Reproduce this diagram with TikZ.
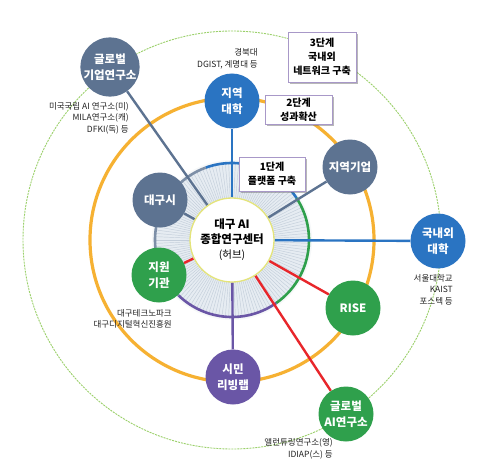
\documentclass[tikz,border=0pt]{standalone}
\usepackage{fontspec}
\setmainfont{Noto Sans CJK KR}
\usetikzlibrary{shadows,calc}
\definecolor{slate}{HTML}{5D7391}
\definecolor{cblue}{HTML}{2A74C2}
\definecolor{cgreen}{HTML}{2FA04C}
\definecolor{cpurple}{HTML}{6A56A6}
\definecolor{corange}{HTML}{F6B132}
\definecolor{cred}{HTML}{E8262B}
\definecolor{dgreen}{HTML}{9BD06A}
\definecolor{diskfill}{HTML}{E6ECF2}
\definecolor{spoke}{HTML}{C3CEDA}
\definecolor{hubline}{HTML}{E4E47A}
\definecolor{boxline}{HTML}{A898C8}
\definecolor{lbl}{HTML}{222222}
\pgfdeclarelayer{bg}
\pgfdeclarelayer{mid}
\pgfsetlayers{bg,mid,main}
\tikzset{
  orb/.style={circle, minimum size=55pt, inner sep=0pt, text=white, align=center,
    font=\fontsize{11.5}{16}\selectfont\bfseries},
  stagebox/.style={draw=boxline, line width=0.7pt, fill=white, align=center, inner sep=2pt,
    font=\fontsize{10}{14}\selectfont\bfseries,
    drop shadow={shadow xshift=2pt, shadow yshift=-2pt, opacity=0.5, fill=black!55}},
  note/.style={anchor=east, align=right, text=lbl, inner sep=0pt,
    font=\fontsize{8.5}{11.5}\selectfont},
  link/.style={line width=2.4pt},
}
\begin{document}
\begin{tikzpicture}[x=1pt,y=-1pt]
\useasboundingbox (0,0) rectangle (494,473);
\coordinate (C) at (232,240);
% hub
\node[circle, minimum size=84pt, inner sep=0pt, fill=white, draw=hubline, line width=1.3pt,
  align=center, font=\fontsize{11.5}{15}\selectfont\bfseries] (hub) at (C)
  {대구 AI\\종합연구센터\\{\mdseries\fontsize{10.5}{15}\selectfont (허브)}};
% outer nodes
\node[orb, fill=slate] (gk) at (110,67) {글로벌\\기업연구소};
\node[orb, fill=cblue] (ju) at (232,101) {지역\\대학};
\node[orb, fill=slate] (dg) at (160,200) {대구시};
\node[orb, fill=cgreen] (jw) at (159,275) {지원\\기관};
\node[orb, fill=cpurple] (sm) at (233,377) {시민\\리빙랩};
\node[orb, fill=slate] (jg) at (350,167) {지역기업};
\node[orb, fill=cblue] (gn) at (438,241) {국내외\\대학};
\node[orb, fill=cgreen] (rise) at (353,308) {RISE};
\node[orb, fill=cgreen] (gai) at (346,414) {글로벌\\AI연구소};
% stage boxes
\node[stagebox, minimum width=68pt, minimum height=50pt] (b3) at (322,57) {3단계\\국내외\\네트워크 구축};
\node[stagebox, minimum width=67pt, minimum height=29pt] (b2) at (298.5,109.5) {2단계\\성과확산};
\node[stagebox, minimum width=66pt, minimum height=34pt] (b1) at (272,174) {1단계\\플랫폼 구축};
% notes
\node[note] (n1) at (258,59) {경북대\\DGIST, 계명대 등};
\node[note] (n2) at (129,118) {미국국립 AI 연구소(미)\\MILA연구소(캐)\\DFKI(독) 등};
\node[note] (n3) at (172,319) {대구테크노파크\\대구디지털혁신진흥원};
\node[note] (n4) at (453,289.5) {서울대학교\\KAIST\\포스텍 등};
\node[note] (n5) at (333,449) {앨런튜링연구소(영)\\IDIAP(스) 등};
% background circles and disk
\begin{pgfonlayer}{bg}
  \fill[white] (0,0) rectangle (494,473);
  \draw[dgreen, line width=0.9pt, dash pattern=on 2pt off 1pt] (C) circle (209);
  \draw[corange, line width=3.2pt] (C) circle (142);
  \fill[white!85!spoke] (C) circle (80);
  \fill[diskfill] (C) circle (77);
  \foreach \a in {0,2.5,...,357.5}
    \draw[spoke, line width=0.45pt] ($(C)+(\a:42)$) -- ($(C)+(\a:76)$);
  \draw[cblue, line width=2.6pt] ($(C)+(-110:77)$) arc[start angle=-110, end angle=-33, radius=77];
  \draw[cgreen, line width=2.6pt] ($(C)+(-33:77)$) arc[start angle=-33, end angle=55, radius=77];
  \draw[cpurple, line width=2.6pt] ($(C)+(55:77)$) arc[start angle=55, end angle=134, radius=77];
  \draw[slate!80!white, line width=2.6pt] ($(C)+(134:77)$) arc[start angle=134, end angle=250, radius=77];
\end{pgfonlayer}
% connectors
\begin{pgfonlayer}{mid}
  \draw[link, slate] (hub) -- (gk);
  \draw[link, cblue] (hub) -- (ju);
  \draw[link, slate] (hub) -- (dg);
  \draw[link, slate] (hub) -- (jg);
  \draw[link, cblue] (hub) -- (gn);
  \draw[link, cred] (hub) -- (jw);
  \draw[link, cpurple] (hub) -- (sm);
  \draw[link, cred] (hub) -- (rise);
  \draw[link, cred] (hub) -- (gai);
\end{pgfonlayer}
\end{tikzpicture}
\end{document}
